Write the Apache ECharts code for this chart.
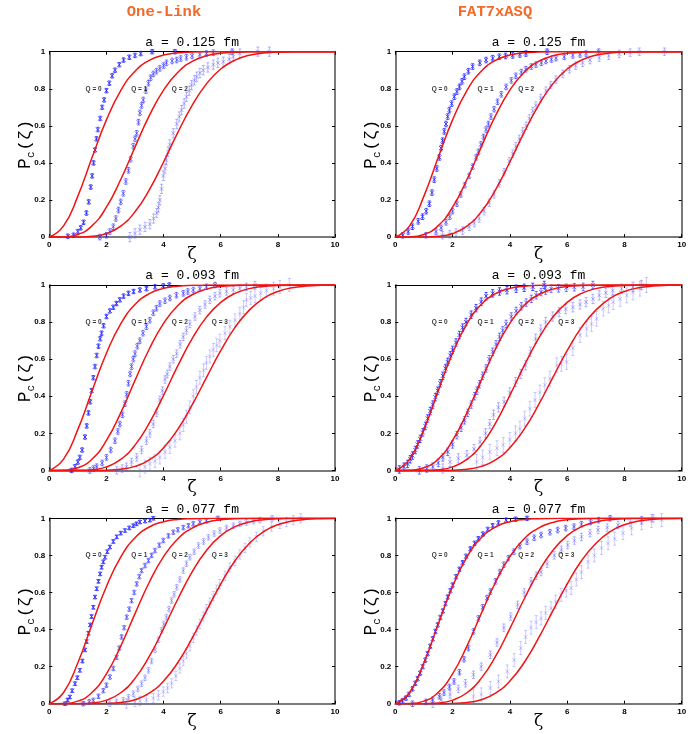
<!DOCTYPE html>
<html><head><meta charset="utf-8">
<script src="https://cdn.jsdelivr.net/npm/echarts@6/dist/echarts.min.js"></script>
<style>html,body{margin:0;padding:0;background:#fff}#c{width:692px;height:734px}</style>
</head><body><div id="c"></div><script>
// ---------------- DATA ----------------
const columnTitles = ['One-Link', 'FAT7xASQ'];
const spacingTitles = ['a = 0.125 fm', 'a = 0.093 fm', 'a = 0.077 fm'];
const qLabels = ['Q = 0', 'Q = 1', 'Q = 2', 'Q = 3'];
const qLabelX = [1.55, 3.15, 4.57, 5.97];
const qLabelY = 0.8;

// theory curves (same in all panels)
const theoryX = [0,0.5,1,1.5,2,2.5,3,3.5,4,4.5,5,5.5,6,6.5,7,7.5,8,8.5,9,9.5,10];
const theoryQ0 = [0,0.0606,0.2212,0.4302,0.6321,0.7904,0.8946,0.9532,0.9817,0.9937,0.9981,0.9995,0.9999,1,1,1,1,1,1,1,1];
const theoryQ1 = [0,0.0010,0.0140,0.0617,0.1614,0.3104,0.4856,0.6549,0.7930,0.8893,0.9474,0.9778,0.9917,0.9973,0.9992,0.9998,1,1,1,1,1];
const theoryQ2 = [0,0,0.0004,0.0040,0.0191,0.0590,0.1365,0.2551,0.4050,0.5647,0.7108,0.8266,0.9065,0.9549,0.9805,0.9925,0.9974,0.9992,0.9998,1,1];
const theoryQ3 = [0,0,0,0.0001,0.0013,0.0063,0.0216,0.0569,0.1221,0.2224,0.3533,0.5009,0.6455,0.7713,0.8645,0.9280,0.9653,0.9850,0.9942,0.9981,0.9994];

// One-Link, a = 0.125 fm
const oneLink125Q0 = [[0.65,0.005],[0.85,0.01],[1.0,0.03],[1.1,0.05],[1.2,0.08],[1.3,0.13],[1.38,0.19],[1.45,0.27],[1.5,0.33],[1.55,0.4],[1.6,0.47],[1.65,0.53],[1.7,0.58],[1.78,0.64],[1.85,0.7],[1.92,0.74],[2.0,0.79],[2.1,0.83],[2.2,0.87],[2.3,0.9],[2.45,0.93],[2.6,0.955],[2.8,0.97],[3.0,0.98],[3.2,0.99],[3.6,1.0],[4.4,1.0]];
const oneLink125Q1 = [[1.77,0.0],[2.0,0.01],[2.12,0.03],[2.24,0.056],[2.33,0.1],[2.42,0.146],[2.5,0.19],[2.59,0.236],[2.68,0.3],[2.77,0.36],[2.85,0.42],[2.94,0.49],[3.0,0.53],[3.06,0.56],[3.12,0.62],[3.17,0.67],[3.23,0.71],[3.29,0.74],[3.38,0.79],[3.47,0.83],[3.55,0.86],[3.64,0.88],[3.75,0.895],[3.87,0.91],[4.0,0.925],[4.1,0.94],[4.3,0.95],[4.46,0.955],[4.6,0.963],[4.8,0.97],[5.0,0.977],[5.27,0.985],[5.5,0.99],[5.74,0.995],[6.4,1.0]];
const oneLink125Q2 = [[2.82,0.0],[3.0,0.02],[3.17,0.04],[3.35,0.055],[3.52,0.07],[3.65,0.1],[3.76,0.13],[3.82,0.16],[3.87,0.2],[3.93,0.26],[3.99,0.33],[4.05,0.37],[4.1,0.415],[4.16,0.46],[4.22,0.5],[4.34,0.56],[4.46,0.61],[4.55,0.65],[4.63,0.685],[4.72,0.72],[4.8,0.757],[4.9,0.79],[4.98,0.82],[5.08,0.845],[5.16,0.865],[5.27,0.885],[5.39,0.9],[5.55,0.915],[5.74,0.93],[5.9,0.94],[6.09,0.946],[6.3,0.96],[6.44,0.973],[6.67,0.99],[7.3,1.0],[7.7,1.0]];
// FAT7xASQ, a = 0.125 fm
const fat125Q0 = [[0.26,0.01],[0.45,0.03],[0.6,0.056],[0.8,0.085],[0.95,0.11],[1.08,0.14],[1.19,0.18],[1.28,0.24],[1.36,0.31],[1.45,0.37],[1.54,0.43],[1.6,0.48],[1.65,0.52],[1.71,0.57],[1.77,0.61],[1.83,0.65],[1.89,0.685],[1.97,0.72],[2.06,0.757],[2.15,0.785],[2.24,0.81],[2.33,0.84],[2.41,0.865],[2.55,0.895],[2.7,0.92],[2.95,0.94],[3.17,0.955],[3.4,0.965],[3.63,0.973],[3.85,0.977],[4.1,0.98],[4.35,0.985],[4.56,0.99],[5.3,1.0]];
const fat125Q1 = [[1.07,0.01],[1.42,0.03],[1.6,0.05],[1.77,0.08],[1.9,0.11],[2.0,0.14],[2.15,0.18],[2.29,0.23],[2.43,0.28],[2.58,0.33],[2.7,0.38],[2.82,0.43],[2.9,0.46],[2.99,0.5],[3.08,0.54],[3.17,0.58],[3.25,0.61],[3.34,0.65],[3.45,0.69],[3.57,0.73],[3.7,0.77],[3.87,0.81],[4.05,0.845],[4.21,0.87],[4.4,0.89],[4.56,0.905],[4.75,0.92],[4.91,0.93],[5.1,0.94],[5.26,0.95],[5.45,0.958],[5.61,0.965],[5.9,0.972],[6.2,0.98],[6.45,0.985],[6.66,0.99],[7.1,1.0]];
const fat125Q2 = [[1.65,0.01],[1.9,0.015],[2.12,0.025],[2.35,0.035],[2.58,0.055],[2.76,0.075],[2.93,0.1],[3.1,0.14],[3.28,0.185],[3.45,0.23],[3.63,0.29],[3.8,0.35],[3.98,0.41],[4.1,0.45],[4.21,0.49],[4.33,0.53],[4.45,0.57],[4.57,0.6],[4.68,0.64],[4.8,0.68],[4.91,0.71],[5.08,0.75],[5.26,0.79],[5.43,0.82],[5.61,0.85],[5.85,0.88],[6.08,0.905],[6.3,0.925],[6.54,0.94],[6.8,0.955],[7.12,0.968],[7.45,0.978],[7.82,0.988],[8.2,0.995],[8.52,1.0],[9.4,1.0]];
// One-Link, a = 0.093 fm
const oneLink093Q0 = [[0.78,0.0],[0.9,0.02],[1.0,0.045],[1.07,0.07],[1.15,0.11],[1.25,0.18],[1.31,0.24],[1.37,0.31],[1.43,0.37],[1.48,0.43],[1.54,0.5],[1.6,0.56],[1.66,0.62],[1.72,0.67],[1.78,0.71],[1.83,0.74],[1.9,0.78],[2.0,0.83],[2.12,0.86],[2.24,0.88],[2.35,0.9],[2.47,0.92],[2.6,0.94],[2.77,0.955],[2.95,0.965],[3.17,0.973],[3.4,0.98],[3.7,0.99],[3.99,0.995],[4.2,1.0]];
const oneLink093Q1 = [[1.42,0.0],[1.55,0.01],[1.66,0.02],[1.85,0.04],[2.0,0.07],[2.15,0.11],[2.3,0.16],[2.4,0.21],[2.47,0.25],[2.56,0.3],[2.65,0.36],[2.71,0.41],[2.77,0.47],[2.83,0.52],[2.88,0.56],[2.94,0.6],[3.0,0.63],[3.08,0.67],[3.17,0.7],[3.28,0.74],[3.4,0.775],[3.52,0.81],[3.64,0.85],[3.75,0.875],[3.87,0.9],[4.05,0.915],[4.22,0.93],[4.45,0.945],[4.69,0.955],[4.85,0.965],[5.04,0.973],[5.27,0.98],[5.5,0.99],[5.8,1.0]];
const oneLink093Q2 = [[2.36,0.0],[2.55,0.01],[2.7,0.02],[2.88,0.045],[3.06,0.07],[3.23,0.11],[3.4,0.16],[3.52,0.2],[3.64,0.25],[3.76,0.31],[3.87,0.38],[3.96,0.43],[4.05,0.49],[4.13,0.52],[4.22,0.56],[4.34,0.6],[4.46,0.63],[4.58,0.68],[4.69,0.72],[4.8,0.755],[4.92,0.79],[5.1,0.83],[5.27,0.865],[5.45,0.895],[5.62,0.92],[5.8,0.94],[5.97,0.955],[6.2,0.965],[6.44,0.973],[6.67,0.982],[6.9,0.99],[7.2,1.0]];
const oneLink093Q3 = [[3.17,0.0],[3.35,0.02],[3.52,0.036],[3.7,0.05],[3.87,0.07],[4.05,0.1],[4.22,0.126],[4.4,0.16],[4.57,0.2],[4.69,0.245],[4.8,0.29],[4.92,0.34],[5.04,0.4],[5.15,0.45],[5.27,0.5],[5.4,0.54],[5.5,0.58],[5.62,0.615],[5.74,0.65],[5.86,0.675],[5.97,0.7],[6.15,0.74],[6.32,0.775],[6.5,0.81],[6.67,0.845],[6.8,0.88],[6.9,0.92],[7.05,0.93],[7.2,0.94],[7.4,0.955],[7.6,0.97],[7.85,0.98],[8.07,0.99],[8.4,1.0]];
// FAT7xASQ, a = 0.093 fm
const fat093Q0 = [[0.14,0.005],[0.3,0.02],[0.43,0.035],[0.52,0.06],[0.6,0.08],[0.7,0.11],[0.78,0.14],[0.87,0.17],[0.96,0.205],[1.05,0.24],[1.13,0.28],[1.22,0.32],[1.31,0.355],[1.4,0.395],[1.48,0.43],[1.57,0.47],[1.66,0.51],[1.75,0.55],[1.83,0.585],[1.92,0.62],[2.0,0.65],[2.12,0.69],[2.24,0.73],[2.35,0.77],[2.47,0.8],[2.65,0.84],[2.82,0.875],[3.0,0.91],[3.17,0.94],[3.4,0.955],[3.64,0.965],[3.9,0.972],[4.22,0.98],[4.5,0.985],[4.8,0.99],[5.2,1.0]];
const fat093Q1 = [[0.84,0.0],[1.1,0.01],[1.31,0.02],[1.5,0.04],[1.66,0.07],[1.83,0.1],[2.0,0.14],[2.15,0.19],[2.3,0.23],[2.42,0.27],[2.53,0.31],[2.65,0.355],[2.77,0.4],[2.85,0.43],[2.94,0.465],[3.05,0.51],[3.17,0.55],[3.28,0.6],[3.4,0.64],[3.52,0.68],[3.64,0.72],[3.75,0.755],[3.87,0.79],[4.05,0.83],[4.22,0.86],[4.4,0.885],[4.57,0.905],[4.75,0.925],[4.92,0.945],[5.09,0.962],[5.25,0.97],[5.44,0.98],[5.7,0.982],[5.97,0.985],[6.25,0.988],[6.56,0.99],[6.9,1.0]];
const fat093Q2 = [[1.66,0.01],[1.91,0.046],[2.2,0.065],[2.5,0.082],[2.75,0.115],[2.96,0.154],[3.15,0.2],[3.3,0.25],[3.43,0.3],[3.6,0.34],[3.8,0.37],[4.0,0.42],[4.2,0.477],[4.38,0.52],[4.55,0.567],[4.72,0.64],[4.9,0.71],[5.08,0.76],[5.25,0.8],[5.5,0.83],[5.72,0.854],[5.95,0.87],[6.2,0.88],[6.45,0.895],[6.66,0.908],[6.9,0.925],[7.12,0.944],[7.35,0.958],[7.59,0.97],[7.9,0.98],[8.3,0.99],[8.6,1.0]];
const fat093Q3 = [[2.84,0.046],[3.05,0.07],[3.3,0.1],[3.55,0.12],[3.77,0.137],[4.0,0.165],[4.2,0.2],[4.35,0.225],[4.52,0.28],[4.7,0.333],[4.88,0.38],[5.05,0.42],[5.22,0.46],[5.4,0.495],[5.64,0.567],[5.8,0.575],[5.98,0.585],[6.2,0.66],[6.45,0.73],[6.68,0.764],[6.85,0.79],[7.03,0.818],[7.26,0.872],[7.45,0.89],[7.61,0.908],[7.85,0.925],[8.08,0.944],[8.3,0.96],[8.54,0.98],[8.77,1.0]];
// One-Link, a = 0.077 fm
const oneLink077Q0 = [[0.55,0.0],[0.64,0.02],[0.72,0.036],[0.8,0.07],[0.9,0.108],[0.98,0.14],[1.07,0.18],[1.16,0.23],[1.25,0.29],[1.31,0.335],[1.37,0.38],[1.43,0.425],[1.48,0.47],[1.54,0.52],[1.6,0.575],[1.66,0.62],[1.72,0.66],[1.78,0.7],[1.83,0.736],[1.89,0.765],[1.95,0.79],[2.03,0.82],[2.12,0.845],[2.24,0.875],[2.36,0.9],[2.5,0.92],[2.65,0.934],[2.8,0.948],[2.94,0.96],[3.05,0.97],[3.17,0.98],[3.35,0.985],[3.52,0.99],[3.64,1.0]];
const oneLink077Q1 = [[1.19,0.0],[1.4,0.01],[1.54,0.018],[1.72,0.04],[1.89,0.07],[2.0,0.1],[2.12,0.144],[2.24,0.19],[2.36,0.25],[2.45,0.3],[2.53,0.36],[2.62,0.41],[2.71,0.467],[2.8,0.51],[2.88,0.556],[2.97,0.6],[3.06,0.646],[3.15,0.685],[3.23,0.718],[3.35,0.745],[3.47,0.772],[3.58,0.8],[3.7,0.826],[3.85,0.855],[3.99,0.88],[4.17,0.905],[4.34,0.925],[4.5,0.938],[4.69,0.95],[4.87,0.96],[5.04,0.97],[5.27,0.98],[5.5,0.987],[5.9,1.0]];
const oneLink077Q2 = [[2.12,0.0],[2.35,0.01],[2.59,0.018],[2.77,0.035],[2.94,0.054],[3.1,0.08],[3.23,0.108],[3.35,0.14],[3.47,0.18],[3.58,0.23],[3.7,0.29],[3.82,0.345],[3.93,0.395],[4.01,0.43],[4.1,0.467],[4.19,0.51],[4.28,0.556],[4.37,0.59],[4.46,0.628],[4.57,0.67],[4.69,0.718],[4.8,0.755],[4.92,0.79],[5.07,0.82],[5.22,0.853],[5.4,0.875],[5.57,0.898],[5.77,0.918],[5.97,0.934],[6.2,0.948],[6.44,0.96],[6.67,0.97],[6.9,0.978],[7.15,0.985],[7.37,0.99],[7.8,1.0]];
const oneLink077Q3 = [[2.7,0.0],[3.0,0.01],[3.17,0.015],[3.4,0.02],[3.64,0.03],[3.82,0.045],[3.99,0.065],[4.14,0.085],[4.28,0.11],[4.43,0.15],[4.57,0.19],[4.69,0.23],[4.8,0.27],[4.92,0.31],[5.04,0.355],[5.16,0.395],[5.27,0.43],[5.39,0.47],[5.5,0.51],[5.62,0.545],[5.74,0.58],[5.86,0.615],[5.97,0.645],[6.15,0.69],[6.32,0.735],[6.5,0.77],[6.67,0.805],[6.85,0.84],[7.02,0.87],[7.25,0.9],[7.49,0.93],[7.78,0.955],[8.07,0.97],[8.3,0.98],[8.54,0.99],[8.8,1.0]];
// FAT7xASQ, a = 0.077 fm
const fat077Q0 = [[0.14,0.005],[0.25,0.015],[0.37,0.03],[0.48,0.05],[0.6,0.08],[0.7,0.11],[0.78,0.135],[0.87,0.165],[0.96,0.2],[1.05,0.235],[1.13,0.27],[1.22,0.31],[1.31,0.35],[1.4,0.39],[1.48,0.425],[1.57,0.465],[1.66,0.5],[1.75,0.54],[1.83,0.575],[1.92,0.61],[2.0,0.64],[2.12,0.685],[2.24,0.725],[2.35,0.76],[2.47,0.795],[2.62,0.835],[2.77,0.865],[2.9,0.89],[3.06,0.915],[3.23,0.94],[3.4,0.96],[3.6,0.975],[3.87,0.99],[4.2,0.995],[4.6,1.0]];
const fat077Q1 = [[0.6,0.0],[1.07,0.01],[1.3,0.02],[1.54,0.04],[1.7,0.06],[1.89,0.09],[2.05,0.12],[2.24,0.17],[2.4,0.24],[2.55,0.3],[2.73,0.39],[2.9,0.46],[3.05,0.52],[3.2,0.57],[3.32,0.605],[3.5,0.66],[3.65,0.71],[3.79,0.75],[3.95,0.785],[4.14,0.82],[4.35,0.85],[4.6,0.874],[4.85,0.895],[5.09,0.91],[5.4,0.925],[5.67,0.937],[5.95,0.947],[6.24,0.955],[6.5,0.968],[6.82,0.98],[7.1,0.99],[7.5,1.0]];
const fat077Q2 = [[1.31,0.0],[1.6,0.02],[1.91,0.05],[2.2,0.08],[2.45,0.11],[2.73,0.156],[3.0,0.2],[3.32,0.264],[3.55,0.33],[3.79,0.41],[4.03,0.47],[4.27,0.533],[4.5,0.6],[4.74,0.66],[4.92,0.69],[5.09,0.71],[5.3,0.755],[5.55,0.8],[5.8,0.83],[6.02,0.856],[6.25,0.88],[6.5,0.9],[6.8,0.92],[7.08,0.937],[7.4,0.95],[7.78,0.964],[8.2,0.978],[8.6,0.99],[9.0,1.0]];
const fat077Q3 = [[2.73,0.04],[3.0,0.05],[3.32,0.085],[3.6,0.12],[3.91,0.174],[4.15,0.235],[4.38,0.3],[4.55,0.36],[4.74,0.41],[4.92,0.44],[5.09,0.46],[5.25,0.49],[5.44,0.515],[5.6,0.55],[5.79,0.587],[5.97,0.61],[6.14,0.624],[6.32,0.67],[6.5,0.71],[6.73,0.766],[6.95,0.8],[7.2,0.84],[7.43,0.865],[7.66,0.89],[7.95,0.92],[8.25,0.946],[8.6,0.973],[8.95,0.985],[9.3,0.99]];

// error bar half-lengths per panel (Q = 0,1,2,3)
const oneLink125Err = [0.012, 0.015, 0.025];
const fat125Err = [0.015, 0.015, 0.02];
const oneLink093Err = [0.012, 0.015, 0.02, 0.035];
const fat093Err = [0.02, 0.02, 0.025, 0.04];
const oneLink077Err = [0.01, 0.012, 0.015, 0.025];
const fat077Err = [0.012, 0.015, 0.02, 0.035];

// ---------------- LAYOUT / STYLE ----------------
const theoryCurves = [theoryQ0, theoryQ1, theoryQ2, theoryQ3];
const panels = [
  {row:0, col:0, data:[oneLink125Q0, oneLink125Q1, oneLink125Q2], err:oneLink125Err},
  {row:0, col:1, data:[fat125Q0, fat125Q1, fat125Q2], err:fat125Err},
  {row:1, col:0, data:[oneLink093Q0, oneLink093Q1, oneLink093Q2, oneLink093Q3], err:oneLink093Err},
  {row:1, col:1, data:[fat093Q0, fat093Q1, fat093Q2, fat093Q3], err:fat093Err},
  {row:2, col:0, data:[oneLink077Q0, oneLink077Q1, oneLink077Q2, oneLink077Q3], err:oneLink077Err},
  {row:2, col:1, data:[fat077Q0, fat077Q1, fat077Q2, fat077Q3], err:fat077Err}
];
const colLeft = [49.3, 395.3];
const colWidth = [285.7, 286.4];
const rowTop = [51.7, 285, 518.3];
const rowHeight = 185.4;
const blueCols = ['rgba(35,35,255,0.9)', 'rgba(55,55,255,0.75)', 'rgba(90,90,255,0.5)', 'rgba(110,110,255,0.4)'];

const grids = [], xAxes = [], yAxes = [], series = [], graphics = [];
const tickFont = {fontSize:8, fontWeight:'bold', color:'#000', fontFamily:'Liberation Sans, Arial, sans-serif'};

function errRenderer(color) {
  return function (params, api) {
    const x = api.value(0), y = api.value(1), e = api.value(2);
    const p = api.coord([x, y]);
    const t = api.coord([x, y + e]);
    const b = api.coord([x, y - e]);
    const s = 2, cap = 1.5;
    const st = {stroke: color, lineWidth: 0.9};
    return {type:'group', children:[
      {type:'line', shape:{x1:p[0], y1:t[1], x2:p[0], y2:b[1]}, style:st},
      {type:'line', shape:{x1:p[0]-cap, y1:t[1], x2:p[0]+cap, y2:t[1]}, style:st},
      {type:'line', shape:{x1:p[0]-cap, y1:b[1], x2:p[0]+cap, y2:b[1]}, style:st},
      {type:'line', shape:{x1:p[0]-s, y1:p[1]-s, x2:p[0]+s, y2:p[1]+s}, style:st},
      {type:'line', shape:{x1:p[0]-s, y1:p[1]+s, x2:p[0]+s, y2:p[1]-s}, style:st}
    ]};
  };
}

panels.forEach((pn, i) => {
  const left = colLeft[pn.col], top = rowTop[pn.row], width = colWidth[pn.col];
  grids.push({left: left, top: top, width: width, height: rowHeight, containLabel:false});
  xAxes.push({
    type:'value', gridIndex:i, min:0, max:10, interval:2, position:'bottom',
    axisLine:{onZero:false, lineStyle:{color:'#7a7a7a', width:2}},
    axisTick:{inside:true, length:3, lineStyle:{color:'#000', width:1}},
    axisLabel:Object.assign({margin:4}, tickFont),
    splitLine:{show:false},
    name:'ζ', nameLocation:'middle', nameGap:9, nameMoveOverlap:false,
    nameTextStyle:{fontSize:17, color:'#000', fontFamily:'DejaVu Serif, serif', verticalAlign:'top'}
  });
  xAxes.push({
    type:'value', gridIndex:i, min:0, max:10, interval:2, position:'top',
    axisLine:{onZero:false, lineStyle:{color:'#000', width:1}},
    axisTick:{inside:true, length:3, lineStyle:{color:'#000', width:1}},
    axisLabel:{show:false}, splitLine:{show:false}
  });
  yAxes.push({
    type:'value', gridIndex:i, min:0, max:1, interval:0.2, position:'left',
    axisLine:{onZero:false, lineStyle:{color:'#7a7a7a', width:2}},
    axisTick:{inside:true, length:3, lineStyle:{color:'#000', width:1}},
    axisLabel:Object.assign({margin:4}, tickFont),
    splitLine:{show:false},
    name:'{p|P}{c|c}{z|(ζ)}', nameLocation:'middle', nameGap:13, nameRotate:90, nameMoveOverlap:false,
    nameTextStyle:{
      color:'#000',
      rich:{
        p:{fontSize:18, fontFamily:'Liberation Mono, monospace', color:'#000', lineHeight:22, verticalAlign:'middle'},
        c:{fontSize:11, fontFamily:'Liberation Mono, monospace', color:'#000', lineHeight:22, verticalAlign:'bottom', padding:[0,1,0,0]},
        z:{fontSize:17, fontFamily:'Liberation Mono, monospace', color:'#000', lineHeight:22, verticalAlign:'middle'}
      }
    }
  });
  yAxes.push({
    type:'value', gridIndex:i, min:0, max:1, interval:0.2, position:'right',
    axisLine:{onZero:false, lineStyle:{color:'#7a7a7a', width:2}},
    axisTick:{inside:true, length:3, lineStyle:{color:'#000', width:1}},
    axisLabel:{show:false}, splitLine:{show:false}
  });

  // blue data with error bars
  pn.data.forEach((arr, q) => {
    series.push({
      type:'custom', xAxisIndex:2*i, yAxisIndex:2*i, z:2, silent:true,
      renderItem: errRenderer(blueCols[q]),
      data: arr.map(pt => [pt[0], pt[1], pn.err[q]])
    });
  });
  // red theory curves
  for (let q = 0; q < pn.data.length; q++) {
    series.push({
      type:'line', xAxisIndex:2*i, yAxisIndex:2*i, z:5, silent:true,
      showSymbol:false, smooth:0.5,
      lineStyle:{color:'#f01414', width:1.5},
      data: theoryX.map((x, k) => [x, theoryCurves[q][k]])
    });
  }
  // Q labels
  series.push({
    type:'scatter', xAxisIndex:2*i, yAxisIndex:2*i, z:6, silent:true,
    symbolSize:0,
    data: pn.data.map((_, q) => ({name: qLabels[q], value:[qLabelX[q], qLabelY]})),
    label:{show:true, position:'inside', formatter: p => p.name,
      fontSize:6.5, fontWeight:'bold', color:'#000', fontFamily:'Liberation Sans, Arial, sans-serif'}
  });

  graphics.push({type:'text', x: left + width/2, y: top - 9,
    style:{text: spacingTitles[pn.row], textAlign:'center', textVerticalAlign:'middle',
      font:'13px "Liberation Mono", monospace', fill:'#000'}});
});

graphics.push({type:'text', x:164, y:12, style:{text:columnTitles[0], textAlign:'center', textVerticalAlign:'middle', font:'bold 15.5px "Liberation Mono", monospace', fill:'#f26a2a'}});
graphics.push({type:'text', x:495, y:12, style:{text:columnTitles[1], textAlign:'center', textVerticalAlign:'middle', font:'bold 15.5px "Liberation Mono", monospace', fill:'#f26a2a'}});

const chart = echarts.init(document.getElementById('c'), null, {renderer:'canvas'});
chart.setOption({
  animation:false,
  backgroundColor:'#fff',
  grid:grids, xAxis:xAxes, yAxis:yAxes, series:series, graphic:graphics
});
</script></body></html>
